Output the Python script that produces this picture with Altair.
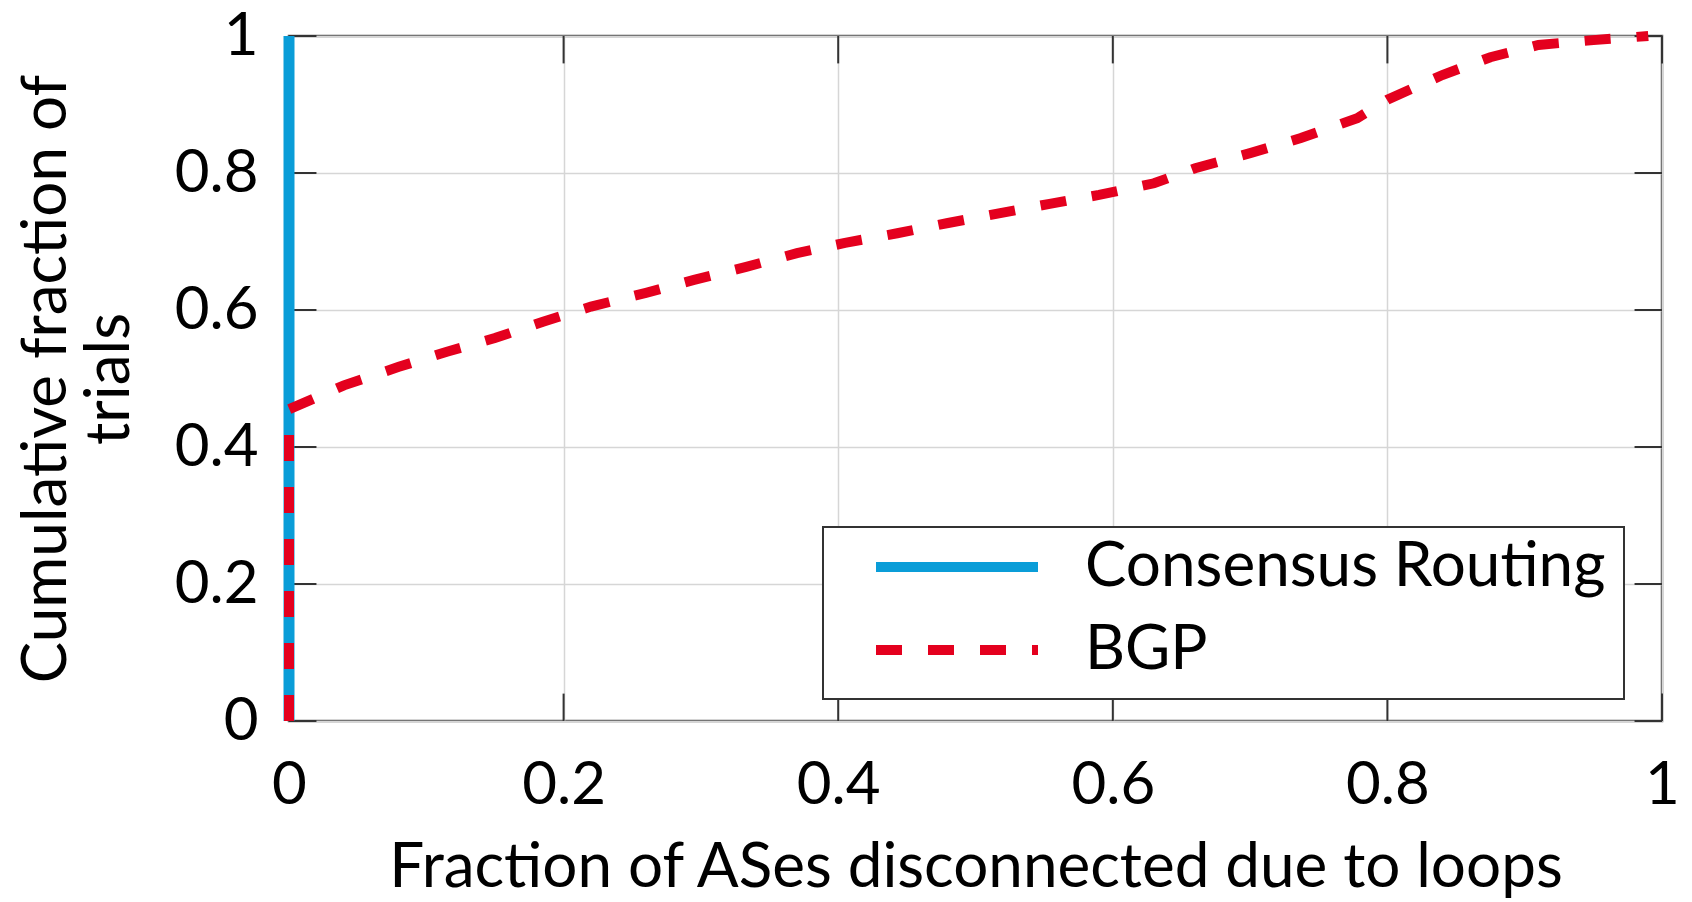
import altair as alt
import pandas as pd

series_names = ["Consensus Routing", "BGP"]
series_colors = ["#0a9dd8", "#e4001e"]
series_dashes = [[1, 0], [26, 26]]

consensus_x = [0.0, 0.0]
consensus_y = [0.0, 1.0]

bgp_x = [0.0, 0.0, 0.04, 0.08, 0.115, 0.15, 0.185, 0.22, 0.26, 0.295, 0.333,
         0.37, 0.405, 0.443, 0.48, 0.517, 0.554, 0.59, 0.63, 0.66, 0.70, 0.737,
         0.778, 0.80, 0.84, 0.875, 0.91, 0.95, 0.99]
bgp_y = [0.0, 0.455, 0.49, 0.517, 0.539, 0.559, 0.583, 0.605, 0.625, 0.644, 0.663,
         0.683, 0.698, 0.712, 0.727, 0.741, 0.755, 0.768, 0.785, 0.807, 0.829, 0.851,
         0.880, 0.907, 0.943, 0.969, 0.987, 0.994, 1.0]

tick_values = [0, 0.2, 0.4, 0.6, 0.8, 1]

x_title = "Fraction of ASes disconnected due to loops"
y_title = ["Cumulative fraction of", "trials"]

FONT = "Lato"

cons_df = pd.DataFrame({"x": consensus_x, "y": consensus_y,
                        "series": series_names[0], "idx": range(len(consensus_x))})
bgp_df = pd.DataFrame({"x": bgp_x, "y": bgp_y,
                       "series": series_names[1], "idx": range(len(bgp_x))})
ticks_df = pd.DataFrame({"v": tick_values})

xscale = alt.Scale(domain=[0, 1], nice=False, zero=False)
yscale = alt.Scale(domain=[0, 1], nice=False, zero=False)

legend = alt.Legend(
    orient="none", legendX=534, legendY=491, title=None,
    symbolType="stroke", symbolSize=26244, symbolStrokeWidth=10,
    symbolOffset=30, clipHeight=44,
    labelFont=FONT, labelFontSize=62, labelColor="black", labelOffset=42,
    labelLimit=0, padding=18, rowPadding=21,
    strokeColor="#333", fillColor="white",
)

color = alt.Color("series:N", scale=alt.Scale(domain=series_names, range=series_colors),
                  legend=legend)
dash = alt.StrokeDash("series:N", scale=alt.Scale(domain=series_names, range=series_dashes),
                      legend=legend)

xenc = alt.X("x:Q", scale=xscale, axis=alt.Axis(
    values=tick_values, format="~g", title=x_title, grid=True, ticks=False, domain=False,
    labelFlush=False, labelOverlap=False, labelFont=FONT, labelFontSize=60,
    labelColor="black", labelPadding=35, titleFont=FONT, titleFontSize=62,
    titleFontWeight="normal", titleColor="black", titlePadding=22,
    gridColor="#d6d6d6", gridWidth=1.5))
yenc = alt.Y("y:Q", scale=yscale, axis=alt.Axis(
    values=tick_values, format="~g", title=y_title, grid=True, ticks=False, domain=False,
    labelFlush=False, labelOverlap=False, labelFont=FONT, labelFontSize=60,
    labelColor="black", labelPadding=31, titleFont=FONT, titleFontSize=62,
    titleFontWeight="normal", titleColor="black", titlePadding=33, titleLineHeight=63,
    gridColor="#d6d6d6", gridWidth=1.5))

blue = alt.Chart(cons_df).mark_line(strokeWidth=11).encode(
    x=xenc, y=yenc, color=color, strokeDash=dash, order="idx:Q")
red = alt.Chart(bgp_df).mark_line(strokeWidth=10).encode(
    x="x:Q", y="y:Q", color=color, strokeDash=dash, order="idx:Q")

tick_style = dict(color="#333", strokeWidth=2)
left_ticks = alt.Chart(ticks_df).mark_rule(**tick_style).encode(
    y="v:Q", x=alt.datum(0), x2=alt.datum(0.02))
right_ticks = alt.Chart(ticks_df).mark_rule(**tick_style).encode(
    y="v:Q", x=alt.datum(0.98), x2=alt.datum(1))
bottom_ticks = alt.Chart(ticks_df).mark_rule(**tick_style).encode(
    x="v:Q", y=alt.datum(0), y2=alt.datum(0.04))
top_ticks = alt.Chart(ticks_df).mark_rule(**tick_style).encode(
    x="v:Q", y=alt.datum(0.96), y2=alt.datum(1))

chart = alt.layer(
    left_ticks, right_ticks, bottom_ticks, top_ticks, blue, red
).properties(
    width=1373, height=685,
    padding={"left": 281, "top": 28, "right": 18, "bottom": 180},
    autosize=alt.AutoSizeParams(type="none"),
).configure(font=FONT).configure_view(
    stroke="#555", strokeWidth=2.5
).configure_legend(strokeWidth=2)

chart.save("out.html", embed_options={"renderer": "svg", "actions": False})
